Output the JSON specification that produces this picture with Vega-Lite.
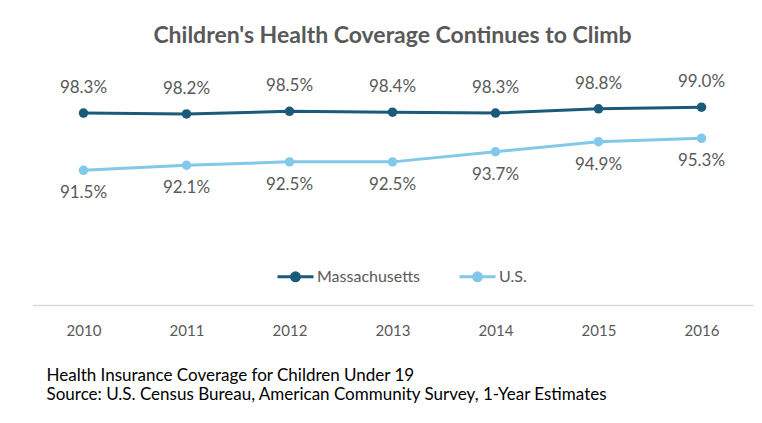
{
  "$schema": "https://vega.github.io/schema/vega-lite/v6.json",
  "autosize": "none",
  "width": 721,
  "height": 245,
  "padding": {"left": 32, "top": 60, "right": 9, "bottom": 118},
  "background": "white",
  "config": {"view": {"stroke": null}, "font": "Lato"},
  "title": {"text": "Children's Health Coverage Continues to Climb", "font": "Lato", "fontSize": 23, "fontWeight": "bold", "color": "#595959", "anchor": "middle", "offset": 12},
  "data": {"values": [
    {"year": "2010", "series": "Massachusetts", "value": 0.983},
    {"year": "2011", "series": "Massachusetts", "value": 0.982},
    {"year": "2012", "series": "Massachusetts", "value": 0.985},
    {"year": "2013", "series": "Massachusetts", "value": 0.984},
    {"year": "2014", "series": "Massachusetts", "value": 0.983},
    {"year": "2015", "series": "Massachusetts", "value": 0.988},
    {"year": "2016", "series": "Massachusetts", "value": 0.990},
    {"year": "2010", "series": "U.S.", "value": 0.915},
    {"year": "2011", "series": "U.S.", "value": 0.921},
    {"year": "2012", "series": "U.S.", "value": 0.925},
    {"year": "2013", "series": "U.S.", "value": 0.925},
    {"year": "2014", "series": "U.S.", "value": 0.937},
    {"year": "2015", "series": "U.S.", "value": 0.949},
    {"year": "2016", "series": "U.S.", "value": 0.953}
  ]},
  "encoding": {
    "x": {"field": "year", "type": "ordinal", "scale": {"type": "point", "padding": 0.5},
      "axis": {"labelAngle": 0, "ticks": false, "grid": false, "domainColor": "#D9D9D9", "domainWidth": 1.5,
        "labelFont": "Lato", "labelFontSize": 15, "labelColor": "#595959", "labelPadding": 18,
        "title": ["Health Insurance Coverage for Children Under 19", "Source: U.S. Census Bureau, American Community Survey, 1-Year Estimates"],
        "titleFont": "Lato", "titleFontSize": 17, "titleFontWeight": "normal", "titleColor": "#000000",
        "titleAnchor": "start", "titleAlign": "left", "titleBaseline": "top", "titleX": 14, "titleY": 62, "titleLineHeight": 19}},
    "y": {"field": "value", "type": "quantitative", "scale": {"domain": [0.755, 1.046], "zero": false}, "axis": null}
  },
  "layer": [
    {
      "mark": {"type": "line", "strokeWidth": 3, "point": {"filled": true, "size": 90}},
      "encoding": {
        "color": {"field": "series", "type": "nominal",
          "scale": {"domain": ["Massachusetts", "U.S."], "range": ["#1B5A79", "#82C8EA"]},
          "legend": {"title": null, "orient": "none", "direction": "horizontal", "legendX": 244, "legendY": 197,
            "labelFont": "Lato", "labelFontSize": 16, "labelColor": "#595959", "labelOffset": 2, "columnPadding": 32,
            "symbolType": "M-1,0H1M0.22,0A0.22,0.22 0 1,1 -0.22,0A0.22,0.22 0 1,1 0.22,0Z", "symbolSize": 1296, "symbolStrokeWidth": 3}}
      }
    },
    {
      "transform": [{"filter": "datum.series == 'Massachusetts'"}],
      "mark": {"type": "text", "dy": -25, "font": "Lato", "fontSize": 17, "color": "#595959"},
      "encoding": {"text": {"field": "value", "type": "quantitative", "format": ".1%"}}
    },
    {
      "transform": [{"filter": "datum.series == 'U.S.'"}],
      "mark": {"type": "text", "dy": 23, "font": "Lato", "fontSize": 17, "color": "#595959"},
      "encoding": {"text": {"field": "value", "type": "quantitative", "format": ".1%"}}
    }
  ]
}
